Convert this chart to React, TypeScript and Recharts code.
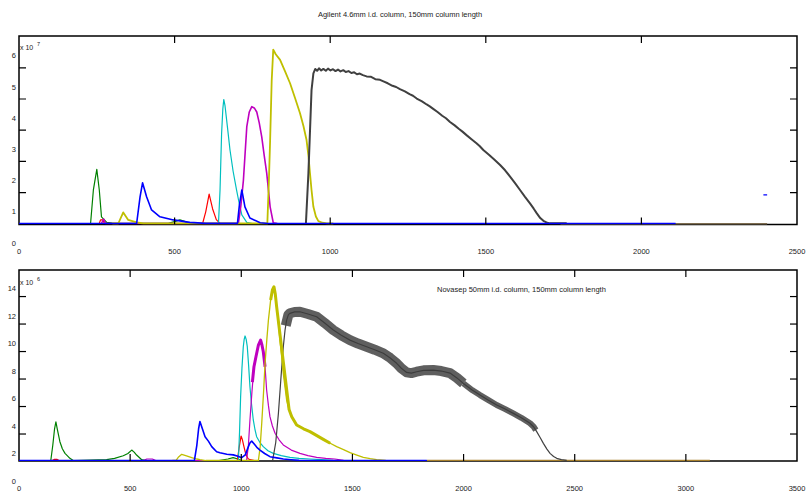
import { LineChart, Line, XAxis, YAxis, ReferenceArea } from 'recharts'

type Pt = [number, number]

// Agilent 4.6mm column (y in units of 10^7)
const agXTicks = [0, 500, 1000, 1500, 2000, 2500]
const agYTicks = [0, 1, 2, 3, 4, 5, 6]
const agBrown: Pt[] = [[1740, 0.61], [2404, 0.61]]
const agGreen: Pt[] = [[200, 0.625], [230, 0.625], [239, 1.7], [250, 2.36], [258, 1.7], [265, 0.84], [282, 0.66], [300, 0.64], [375, 0.63], [480, 0.63], [505, 0.7], [517, 0.74], [530, 0.7], [545, 0.63], [560, 0.625]]
const agRed: Pt[] = [[240, 0.625], [258, 0.625], [262, 0.74], [270, 0.74], [274, 0.625], [590, 0.625], [600, 1.0], [611, 1.57], [622, 1.1], [634, 0.75], [646, 0.63], [660, 0.625]]
const agCyan: Pt[] = [[625, 0.625], [641, 0.625], [646, 1.7], [651, 3.5], [655, 4.3], [658, 4.6], [662, 4.4], [670, 3.7], [678, 2.98], [688, 2.3], [699, 1.7], [708, 1.25], [716, 0.9], [732, 0.66], [750, 0.625]]
const agMagenta: Pt[] = [[265, 0.625], [272, 0.77], [278, 0.625], [705, 0.625], [713, 1.2], [721, 2.0], [732, 3.73], [740, 4.2], [748, 4.37], [756, 4.33], [764, 4.2], [772, 3.85], [780, 3.4], [788, 2.8], [796, 2.24], [807, 1.16], [817, 0.65], [830, 0.625]]
const agYellow: Pt[] = [[300, 0.625], [319, 0.625], [335, 0.98], [351, 0.74], [378, 0.66], [400, 0.625], [798, 0.625], [803, 2.0], [807, 3.3], [812, 5.2], [817, 6.2], [825, 6.05], [839, 5.87], [855, 5.5], [871, 5.12], [887, 4.65], [903, 4.16], [914, 3.75], [924, 3.3], [930, 2.8], [935, 2.24], [940, 1.7], [946, 1.16], [954, 0.85], [962, 0.7], [975, 0.65], [989, 0.63], [1010, 0.625]]
const agGray: Pt[] = [[922, 0.63], [930, 2.24], [940, 4.9], [946, 5.44], [952, 5.58], [958, 5.52], [964, 5.6], [971, 5.53], [978, 5.58], [986, 5.52], [993, 5.59], [1001, 5.53], [1009, 5.57], [1017, 5.51], [1025, 5.56], [1033, 5.5], [1042, 5.54], [1050, 5.48], [1059, 5.51], [1068, 5.45], [1077, 5.47], [1086, 5.41], [1095, 5.43], [1105, 5.38], [1117, 5.34], [1130, 5.33], [1145, 5.25], [1160, 5.23], [1171, 5.18], [1185, 5.12], [1200, 5.04], [1212, 5.0], [1224, 4.93], [1240, 4.86], [1255, 4.77], [1266, 4.72], [1278, 4.63], [1295, 4.54], [1310, 4.44], [1320, 4.38], [1331, 4.3], [1345, 4.2], [1360, 4.08], [1372, 4.0], [1385, 3.88], [1400, 3.77], [1413, 3.66], [1425, 3.57], [1439, 3.45], [1455, 3.32], [1470, 3.2], [1480, 3.11], [1492, 2.98], [1510, 2.83], [1528, 2.67], [1546, 2.5], [1562, 2.33], [1578, 2.13], [1594, 1.92], [1610, 1.7], [1626, 1.48], [1642, 1.27], [1654, 1.1], [1664, 0.95], [1675, 0.8], [1685, 0.71], [1695, 0.66], [1706, 0.63], [1760, 0.63]]
const agBlue: Pt[] = [[0, 0.625], [378, 0.625], [389, 1.48], [397, 1.93], [410, 1.48], [426, 1.06], [453, 0.84], [496, 0.74], [549, 0.66], [600, 0.63], [702, 0.63], [708, 1.2], [716, 1.7], [726, 1.16], [742, 0.8], [775, 0.65], [800, 0.625], [2110, 0.625]]
const agBlueDash: Pt[] = [[2392, 1.54], [2404, 1.54]]

// Novasep 50mm column (y in units of 10^6)
const nvXTicks = [0, 500, 1000, 1500, 2000, 2500, 3000, 3500]
const nvYTicks = [0, 2, 4, 6, 8, 10, 12, 14]
const nvBrown: Pt[] = [[1835, 1.47], [3108, 1.47]]
const nvGreen: Pt[] = [[120, 1.49], [143, 1.49], [152, 2.6], [160, 3.8], [166, 4.31], [172, 3.8], [184, 2.86], [195, 2.35], [207, 2.01], [229, 1.65], [244, 1.49], [394, 1.55], [430, 1.65], [469, 1.84], [490, 2.0], [507, 2.25], [518, 2.1], [529, 1.89], [552, 1.55], [570, 1.49], [900, 1.49], [940, 1.6], [963, 1.7], [985, 1.6], [1000, 1.49], [1010, 1.49]]
const nvRed: Pt[] = [[150, 1.49], [160, 1.58], [170, 1.58], [180, 1.49], [982, 1.49], [990, 2.4], [999, 3.27], [1005, 3.0], [1012, 2.5], [1018, 2.1], [1024, 1.82], [1031, 1.62], [1039, 1.55], [1060, 1.49]]
const nvCyan: Pt[] = [[970, 1.49], [987, 1.49], [992, 3.5], [997, 6.13], [1003, 8.2], [1009, 9.77], [1013, 10.3], [1017, 10.55], [1022, 10.3], [1027, 9.77], [1033, 8.4], [1039, 6.86], [1046, 5.6], [1054, 4.44], [1061, 3.8], [1069, 3.22], [1084, 2.8], [1099, 2.5], [1120, 2.2], [1144, 2.01], [1180, 1.85], [1219, 1.72], [1260, 1.65], [1309, 1.6], [1360, 1.55], [1413, 1.5]]
const nvMagenta: Pt[] = [[560, 1.49], [575, 1.6], [600, 1.6], [615, 1.49], [1024, 1.49], [1032, 2.6], [1039, 4.44], [1048, 6.5], [1057, 8.31], [1066, 9.04], [1077, 9.89], [1087, 10.25], [1093, 9.9], [1099, 9.4], [1107, 8.31], [1114, 6.62], [1122, 5.5], [1129, 4.68], [1140, 4.0], [1152, 3.47], [1170, 3.0], [1189, 2.62], [1225, 2.25], [1264, 2.01], [1300, 1.85], [1339, 1.72], [1380, 1.65], [1421, 1.6], [1460, 1.5]]
const nvMagentaNoisy: Pt[] = [[1050, 7.2], [1057, 8.31], [1066, 9.04], [1077, 9.89], [1087, 10.25], [1093, 9.9], [1099, 9.4], [1107, 8.31]]
const nvYellow: Pt[] = [[690, 1.49], [706, 1.49], [718, 1.75], [732, 1.94], [750, 1.85], [777, 1.7], [800, 1.6], [814, 1.55], [840, 1.49], [1077, 1.49], [1085, 2.5], [1092, 4.2], [1100, 6.4], [1107, 8.56], [1115, 10.3], [1122, 11.7], [1132, 13.16], [1140, 13.9], [1147, 14.13], [1153, 13.6], [1159, 12.68], [1167, 11.5], [1174, 10.25], [1182, 9.0], [1189, 7.83], [1197, 6.8], [1204, 5.89], [1215, 5.2], [1227, 4.68], [1249, 4.07], [1280, 3.8], [1309, 3.59], [1340, 3.3], [1369, 3.03], [1400, 2.75], [1429, 2.5], [1460, 2.28], [1489, 2.06], [1520, 1.88], [1549, 1.72], [1580, 1.62], [1609, 1.55], [1650, 1.49]]
const nvYellowNoisy: Pt[] = [[1132, 13.16], [1140, 13.9], [1147, 14.13], [1153, 13.6], [1159, 12.68], [1215, 5.2], [1227, 4.68], [1249, 4.07], [1280, 3.8], [1309, 3.59], [1340, 3.3], [1369, 3.03], [1400, 2.75]]
const nvGray: Pt[] = [[1141, 1.5], [1155, 2.8], [1167, 4.92], [1178, 7.4], [1189, 9.77], [1197, 11.0], [1204, 11.7], [1212, 12.1], [1219, 12.2], [1240, 12.3], [1264, 12.31], [1300, 12.15], [1339, 11.95], [1375, 11.5], [1414, 10.98], [1450, 10.6], [1489, 10.25], [1525, 10.0], [1564, 9.77], [1600, 9.55], [1639, 9.29], [1670, 8.95], [1699, 8.56], [1720, 8.2], [1744, 7.9], [1765, 7.85], [1789, 7.95], [1820, 8.05], [1864, 8.07], [1900, 8.0], [1939, 7.85], [1970, 7.5], [1999, 7.1], [2040, 6.6], [2074, 6.25], [2110, 5.9], [2149, 5.53], [2185, 5.25], [2224, 4.92], [2260, 4.6], [2299, 4.2], [2315, 3.95], [2329, 3.59], [2345, 3.15], [2359, 2.74], [2375, 2.32], [2389, 2.01], [2405, 1.78], [2419, 1.65], [2440, 1.55], [2464, 1.5]]
const nvGrayNoisyHigh: Pt[] = [[1200, 11.3], [1212, 12.1], [1219, 12.2], [1240, 12.3], [1264, 12.31], [1300, 12.15], [1339, 11.95], [1375, 11.5], [1414, 10.98], [1450, 10.6], [1489, 10.25], [1525, 10.0], [1564, 9.77], [1600, 9.55], [1639, 9.29], [1670, 8.95], [1699, 8.56], [1720, 8.2], [1744, 7.9], [1765, 7.85], [1789, 7.95], [1820, 8.05], [1864, 8.07], [1900, 8.0], [1939, 7.85], [1970, 7.5], [1999, 7.1]]
const nvGrayNoisyLow: Pt[] = [[1999, 7.1], [2040, 6.6], [2074, 6.25], [2110, 5.9], [2149, 5.53], [2185, 5.25], [2224, 4.92], [2260, 4.6], [2299, 4.2], [2315, 3.95], [2325, 3.7]]
const nvBlue: Pt[] = [[0, 1.49], [789, 1.49], [800, 2.6], [808, 3.8], [814, 4.33], [825, 3.8], [837, 3.22], [852, 2.9], [867, 2.5], [889, 2.13], [904, 2.05], [935, 1.95], [964, 1.9], [985, 1.8], [1002, 1.7], [1018, 1.9], [1032, 2.5], [1040, 2.8], [1047, 2.9], [1060, 2.65], [1070, 2.45], [1084, 2.25], [1105, 2.0], [1129, 1.77], [1160, 1.68], [1189, 1.6], [1225, 1.55], [1260, 1.5], [1835, 1.49]]

const FONT = '"Liberation Sans", Arial, sans-serif'
const PLOT_LEFT = 19
const PLOT_RIGHT = 797
const TICK_LEN = 7
const toPts = (a: Pt[]) => a.map(([x, y]) => ({ x, y }))

type Series = { data: Pt[]; color: string; width?: number; opacity?: number }

function YTick(props: any) {
  const { x, y, payload } = props
  return (
    <text x={x - 3} y={y} dy="0.35em" textAnchor="end" fontSize={7.5} fontFamily={FONT} fill="#222">
      {payload.value}
    </text>
  )
}

function XTick(props: any) {
  const { x, y, payload } = props
  return (
    <text x={x} y={y + 27} dy="0.35em" textAnchor="middle" fontSize={7.5} fontFamily={FONT} fill="#222">
      {payload.value}
    </text>
  )
}

function Panel({ top, height, plotTop, plotBottom, xMax, xTicks, yDomain, yTicks, off, series }: {
  top: number; height: number; plotTop: number; plotBottom: number; xMax: number; xTicks: number[]
  yDomain: [number, number]; yTicks: number[]; off: number; series: Series[]
}) {
  // inward tick marks, built from the tick arrays (lengths converted to data units)
  const xLen = (TICK_LEN * xMax) / (PLOT_RIGHT - PLOT_LEFT)
  const yPx = (plotBottom - plotTop) / (yDomain[1] - yDomain[0])
  const yLen = TICK_LEN / yPx
  // the y tick marks sit `off` px below their labels, as in the source figure
  const yMarks = yTicks.map((v) => v - off / yPx).filter((m) => m > yDomain[0] + 2 / yPx)
  const xMarks = xTicks.filter((t) => t > 0 && t < xMax)
  const tickMarks = [
    ...yMarks.map((m) => [{ x: 0, y: m }, { x: xLen, y: m }]),
    ...yMarks.map((m) => [{ x: xMax - xLen, y: m }, { x: xMax, y: m }]),
    ...xMarks.map((t) => [{ x: t, y: yDomain[0] }, { x: t, y: yDomain[0] + yLen }]),
    ...xMarks.map((t) => [{ x: t, y: yDomain[1] }, { x: t, y: yDomain[1] - yLen }]),
  ]
  return (
    <div style={{ position: 'absolute', left: 0, top }}>
      <LineChart width={807} height={height}
        margin={{ top: plotTop, right: 807 - PLOT_RIGHT, bottom: height - plotBottom - 20, left: 0 }}>
        <XAxis dataKey="x" type="number" domain={[0, xMax]} ticks={xTicks} allowDataOverflow height={20}
          tickSize={0} tickMargin={0} interval={0} axisLine={false} tick={<XTick />} />
        <YAxis type="number" domain={yDomain} ticks={yTicks} allowDataOverflow width={PLOT_LEFT}
          tickSize={0} tickMargin={0} interval={0} axisLine={false} tick={<YTick />} />
        {series.map((s, i) => (
          <Line key={i} data={toPts(s.data)} dataKey="y" type="linear" stroke={s.color}
            strokeWidth={s.width ?? 1.2} strokeOpacity={s.opacity ?? 1} strokeLinejoin="round"
            dot={false} activeDot={false} isAnimationActive={false} />
        ))}
        {tickMarks.map((seg, i) => (
          <Line key={'tick' + i} data={seg} dataKey="y" type="linear" stroke="#000" strokeWidth={1.2}
            dot={false} activeDot={false} isAnimationActive={false} />
        ))}
        <ReferenceArea x1={0} x2={xMax} y1={yDomain[0]} y2={yDomain[1]} fill="none" fillOpacity={0}
          stroke="#000" strokeWidth={1.5} ifOverflow="visible" />
      </LineChart>
    </div>
  )
}

export default function App() {
  const agSeries: Series[] = [
    { data: agBrown, color: '#7d6c50', width: 2 },
    { data: agGreen, color: '#008000' },
    { data: agRed, color: '#ff0000' },
    { data: agCyan, color: '#00bfbf' },
    { data: agMagenta, color: '#bf00bf', width: 1.6 },
    { data: agYellow, color: '#bfbf00', width: 1.8 },
    { data: agGray, color: '#404040', width: 2 },
    { data: agBlue, color: '#0000ff', width: 1.6 },
    { data: agBlueDash, color: '#0000ff' },
  ]
  const nvSeries: Series[] = [
    { data: nvBrown, color: '#a8802c', width: 2 },
    { data: nvGreen, color: '#008000' },
    { data: nvRed, color: '#ff0000' },
    { data: nvCyan, color: '#00bfbf' },
    { data: nvMagenta, color: '#bf00bf' },
    { data: nvMagentaNoisy, color: '#bf00bf', width: 3 },
    { data: nvGray, color: '#404040' },
    { data: nvGrayNoisyHigh, color: '#3c3c3c', width: 10, opacity: 0.82 },
    { data: nvGrayNoisyLow, color: '#3c3c3c', width: 6, opacity: 0.82 },
    { data: nvYellow, color: '#bfbf00', width: 1.3 },
    { data: nvYellowNoisy, color: '#bfbf00', width: 3 },
    { data: nvBlue, color: '#0000ff', width: 1.6 },
  ]
  return (
    <div style={{ position: 'absolute', left: 0, top: 0, width: 807, height: 492, background: '#fff', overflow: 'hidden' }}>
      <Panel top={0} height={260} plotTop={36} plotBottom={224.5} xMax={2500} xTicks={agXTicks}
        yDomain={[0.593, 6.635]} yTicks={agYTicks} off={12} series={agSeries} />
      <Panel top={240} height={252} plotTop={30} plotBottom={221} xMax={3500} xTicks={nvXTicks}
        yDomain={[1.455, 15.35]} yTicks={nvYTicks} off={8} series={nvSeries} />
      <svg width={807} height={492} style={{ position: 'absolute', left: 0, top: 0, pointerEvents: 'none' }}
        fontFamily={FONT} fill="#222">
        <text x={400} y={14} dy="0.35em" textAnchor="middle" fontSize={7.5}>
          Agilent 4.6mm i.d. column, 150mm column length
        </text>
        <text x={20} y={48} dy="0.35em" fontSize={7}>x 10</text>
        <text x={37} y={44} dy="0.35em" fontSize={5.5}>7</text>
        <text x={437} y={289} dy="0.35em" fontSize={7.5}>
          Novasep 50mm i.d. column, 150mm column length
        </text>
        <text x={20} y={283} dy="0.35em" fontSize={7}>x 10</text>
        <text x={37} y={279} dy="0.35em" fontSize={5.5}>6</text>
      </svg>
    </div>
  )
}
